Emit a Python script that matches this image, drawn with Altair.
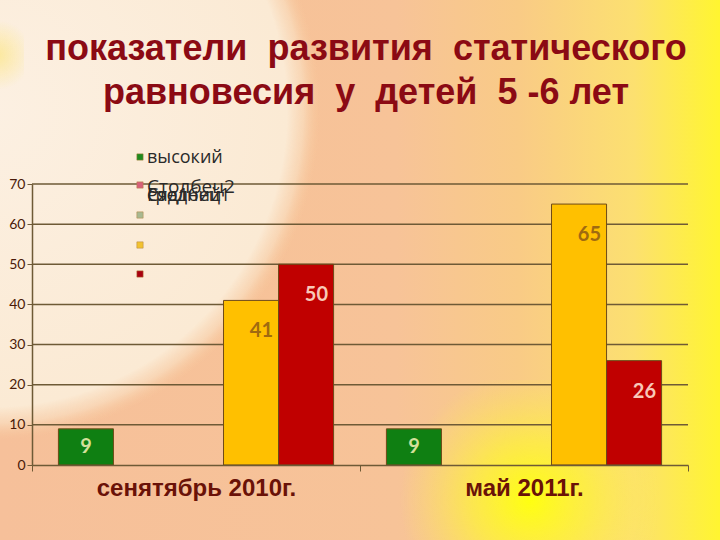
import altair as alt
import pandas as pd

# ---- data ----
groups = ["сенятябрь 2010г.", "май 2011г."]
slots = ["высокий", "Столбец2", "средний", "ряд4", "ряд5"]
slot_colors = ["#0f7f12", "#d6607a", "#a8b890", "#ffc000", "#c00000"]
high_vals = [9, 9]
orange_vals = [41, 65]
red_vals = [50, 26]
title_lines = ["показатели\u00a0 развития\u00a0 статического", "равновесия\u00a0 у\u00a0 детей\u00a0 5 -6 лет"]
y_ticks = [0, 10, 20, 30, 40, 50, 60, 70]

rows = []
for g, v in zip(groups, high_vals):
    rows.append({"group": g, "slot": "высокий", "value": v})
for g, v in zip(groups, orange_vals):
    rows.append({"group": g, "slot": "ряд4", "value": v})
for g, v in zip(groups, red_vals):
    rows.append({"group": g, "slot": "ряд5", "value": v})
df = pd.DataFrame(rows)

W, H = 656, 281
PL, PT, PR, PB = 32, 184, 32, 75
AX = "#6e5a36"

x_enc = alt.X("group:N", sort=groups, title=None,
              scale=alt.Scale(domain=groups, paddingInner=0, paddingOuter=0),
              axis=alt.Axis(labelAngle=0, labelFontSize=24, labelFont="Liberation Sans",
                            labelFontWeight="bold", labelColor="#6a1208", labelPadding=5,
                            labelLimit=500, labelOverlap=False,
                            tickBand="extent", tickSize=6, tickColor=AX,
                            domainColor=AX, domainWidth=1.5, grid=False, zindex=1))
xo_enc = alt.XOffset("slot:N", sort=slots,
                     scale=alt.Scale(domain=slots, paddingInner=0, paddingOuter=0.48))
y_enc = alt.Y("value:Q", title=None,
              scale=alt.Scale(domain=[0, 70], nice=False),
              axis=alt.Axis(values=y_ticks, grid=False,
                            domainColor=AX, domainWidth=1.5, tickColor=AX,
                            tickSize=5, labelFontSize=14, labelFont="Lato",
                            labelColor="#4a1a08", labelPadding=2, zindex=1))

# ---- background gradients ----
def bg_rect(fill, x, x2, y, y2):
    return alt.Chart(pd.DataFrame({"k": [0]})).mark_rect(fill=fill, strokeWidth=0).encode(
        x=alt.value(x), x2=alt.value(x2), y=alt.value(y), y2=alt.value(y2))

base_grad = alt.LinearGradient(
    gradient="linear", x1=0, y1=0.5, x2=1, y2=0.5,
    stops=[alt.GradientStop(color="#f6c09a", offset=0),
           alt.GradientStop(color="#f7c398", offset=0.55),
           alt.GradientStop(color="#f9cb86", offset=0.72),
           alt.GradientStop(color="#fce070", offset=0.88),
           alt.GradientStop(color="#fff530", offset=1)])
white_grad = alt.RadialGradient(
    gradient="radial", x1=0.5, y1=0.5, r1=0, x2=0.5, y2=0.5, r2=0.5,
    stops=[alt.GradientStop(color="#fcf0e2", offset=0),
           alt.GradientStop(color="#fbead4", offset=0.9),
           alt.GradientStop(color="rgba(250,228,200,0.6)", offset=0.95),
           alt.GradientStop(color="rgba(248,205,160,0)", offset=1)])
yellow_grad = alt.RadialGradient(
    gradient="radial", x1=0.5, y1=0.5, r1=0, x2=0.5, y2=0.5, r2=0.5,
    stops=[alt.GradientStop(color="#ffff10", offset=0),
           alt.GradientStop(color="rgba(255,250,40,0.6)", offset=0.45),
           alt.GradientStop(color="rgba(255,240,80,0)", offset=1)])
corner_grad = alt.RadialGradient(
    gradient="radial", x1=0.5, y1=0.5, r1=0, x2=0.5, y2=0.5, r2=0.5,
    stops=[alt.GradientStop(color="rgba(252,226,90,0.5)", offset=0),
           alt.GradientStop(color="rgba(252,226,90,0)", offset=1)])

bg = bg_rect(base_grad, -PL, W + PR, -PT, H + PB)
white = bg_rect(white_grad, -340 - PL, 320 - PL, -220 - PT, 440 - PT)
yel = bg_rect(yellow_grad, 400 - PL, 660 - PL, 380 - PT, 620 - PT)
corner = bg_rect(corner_grad, -30 - PL, 24 - PL, 20 - PT, 90 - PT)

# ---- gridlines (behind the bars) ----
grid = alt.Chart(pd.DataFrame({"value": y_ticks[1:]})).mark_rule(
    color=AX, strokeWidth=1.5).encode(y=y_enc)

# ---- bars ----
bars = alt.Chart(df).mark_bar(stroke="#6e4a18", strokeWidth=1).encode(
    x=x_enc, xOffset=xo_enc, y=y_enc,
    color=alt.Color("slot:N", scale=alt.Scale(domain=slots, range=slot_colors), legend=None))

def labels(slot, color, dx, dy, align):
    return alt.Chart(df).transform_filter(alt.datum.slot == slot).mark_text(
        font="Lato", fontSize=20, fontWeight="bold", color=color,
        dx=dx, dy=dy, align=align, baseline="middle").encode(
        x=x_enc, xOffset=xo_enc, y=y_enc, text="value:Q")

lab_g = labels("высокий", "#d4e09a", 0, 18, "center")
lab_o = labels("ряд4", "#a06a10", 22, 31, "right")
lab_r = labels("ряд5", "#f8c8b8", 22, 31, "right")

# ---- legend drawn as in the picture ----
leg_colors = ["#1f8a1f", "#d6607a", "#a8b890", "#f2c230", "#a80010"]
leg_y = [157, 185, 215, 245, 274]
leg_parts = []
for c, yy in zip(leg_colors, leg_y):
    leg_parts.append(alt.Chart(pd.DataFrame({"k": [0]})).mark_square(
        size=40, color=c, opacity=1, stroke="#b08040", strokeWidth=0.5).encode(
        x=alt.value(140 - PL), y=alt.value(yy - PT)))
leg_texts = [("высокий", 158, 18), ("Столбец2", 187, 19), ("средний", 196, 18),
             ("Столбец1", 196, 18), ("Ряд1", 196, 18)]
for t, yy, fs in leg_texts:
    leg_parts.append(alt.Chart(pd.DataFrame({"t": [t]})).mark_text(
        font="Open Sans", fontSize=fs, color="#2a2a2a", align="left", baseline="middle").encode(
        x=alt.value(147 - PL), y=alt.value(yy - PT), text="t:N"))

# ---- title lines ----
title_parts = []
for t, yy in zip(title_lines, [60, 104]):
    title_parts.append(alt.Chart(pd.DataFrame({"t": [t]})).mark_text(
        font="Liberation Sans", fontSize=36, fontWeight="bold", color="#8b0a14",
        align="center", baseline="alphabetic").encode(
        x=alt.value(366 - PL), y=alt.value(yy - PT), text="t:N"))

chart = alt.layer(bg, white, yel, corner, grid, bars, lab_g, lab_o, lab_r,
                  *leg_parts, *title_parts).properties(
    width=W, height=H,
    padding={"left": PL, "top": PT, "right": PR, "bottom": PB},
    autosize=alt.AutoSizeParams(type="none"),
).configure_view(stroke=None).configure(background="#f6c09a")

chart.save("out.html", embed_options={"renderer": "svg", "actions": False})
